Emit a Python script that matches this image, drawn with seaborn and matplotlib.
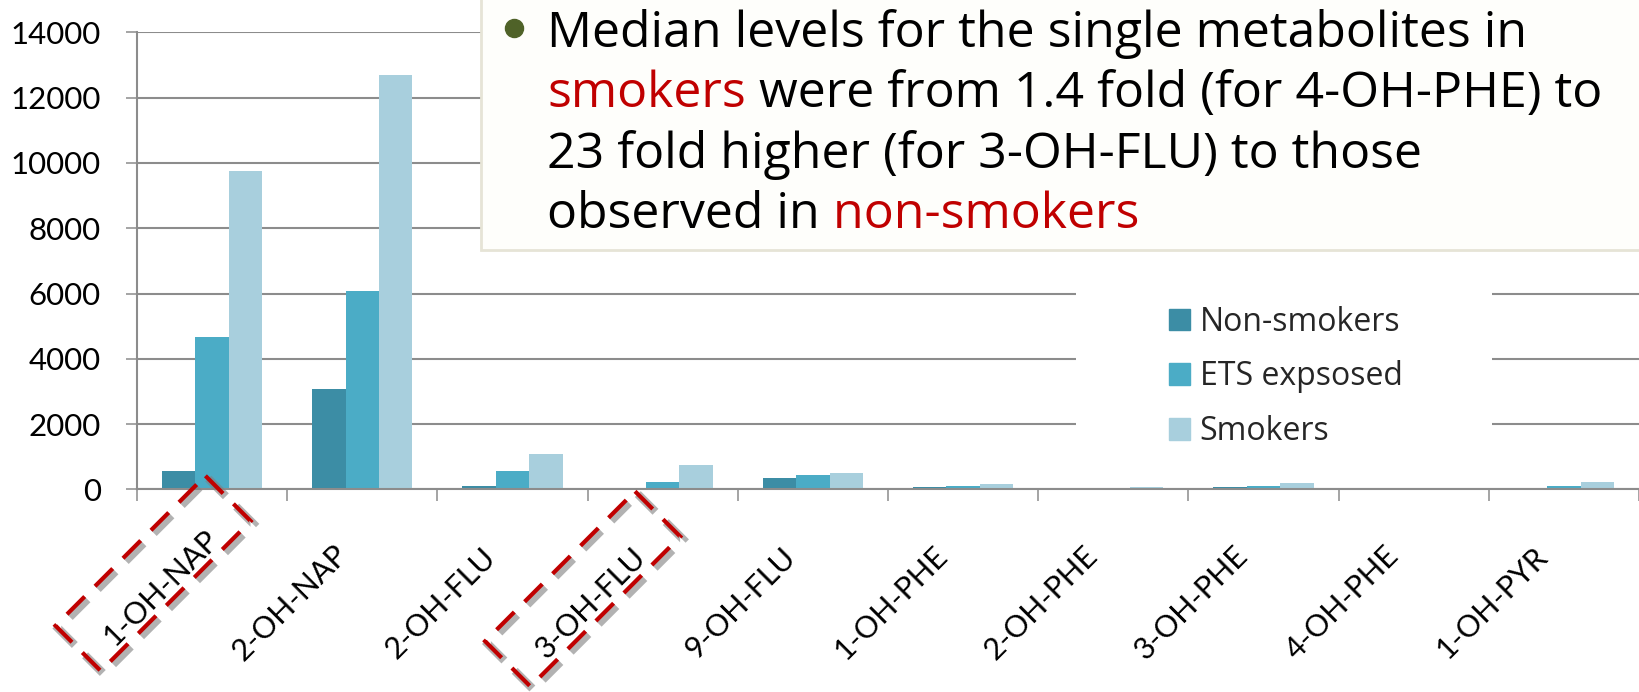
import numpy as np
import pandas as pd
import matplotlib
matplotlib.use("Agg")
import matplotlib.pyplot as plt
import matplotlib.patheffects as pe
from matplotlib.patches import Rectangle, Polygon
from matplotlib.lines import Line2D
from matplotlib.transforms import ScaledTranslation, IdentityTransform
import seaborn as sns

# values
metabolites = ["1-OH-NAP", "2-OH-NAP", "2-OH-FLU", "3-OH-FLU", "9-OH-FLU",
               "1-OH-PHE", "2-OH-PHE", "3-OH-PHE", "4-OH-PHE", "1-OH-PYR"]
non_smokers = [555, 3080, 105, 30, 340, 62, 30, 62, 10, 41]
ets_exposed = [4660, 6080, 565, 236, 430, 92, 41, 103, 12, 103]
smokers = [9760, 12700, 1090, 740, 515, 165, 72, 195, 14, 215]
groups = ["Non-smokers", "ETS expsosed", "Smokers"]
colors = ["#3C8DA5", "#4BACC6", "#A8CFDD"]
y_ticks = [0, 2000, 4000, 6000, 8000, 10000, 12000, 14000]
highlight = ["1-OH-NAP", "3-OH-FLU"]

df = pd.DataFrame({
    "metabolite": metabolites * 3,
    "value": non_smokers + ets_exposed + smokers,
    "group": sum([[g] * len(metabolites) for g in groups], []),
})

sns.set_style("white")
plt.rcParams["font.family"] = ["Lato", "DejaVu Sans"]

W, H = 1639, 692
fig = plt.figure(figsize=(W / 100, H / 100), dpi=100)
x0, y0, y1 = 137, 489.4, 32.3
ax = fig.add_axes([x0 / W, (H - y0) / H, (W - x0) / W, (y0 - y1) / H])

sns.barplot(data=df, x="metabolite", y="value", hue="group", palette=colors,
            width=0.666, saturation=1, linewidth=0, ax=ax)

grid_c = "#8C8C8C"
ax.set_ylim(0, 14000)
ax.set_yticks(y_ticks)
ax.set_xlim(-0.5, -0.5 + (W - x0) / 151)
ax.set_xlabel("")
ax.set_ylabel("")
ax.yaxis.grid(True, color=grid_c, linewidth=1.5)
ax.set_axisbelow(True)
for s in ["top", "right"]:
    ax.spines[s].set_visible(False)
for s in ["left", "bottom"]:
    ax.spines[s].set_color(grid_c)
    ax.spines[s].set_linewidth(1.5)

ax.set_xticks(np.arange(-0.5, len(metabolites), 1), minor=True)
ax.tick_params(axis="x", which="minor", length=8.6, width=1.1, color=grid_c, bottom=True)
ax.tick_params(axis="x", which="major", length=0, pad=18, labelsize=22, labelcolor="black")
ax.tick_params(axis="y", length=8, width=1.1, color=grid_c, pad=18, labelsize=22.5,
               left=True, labelcolor="black")
for lab in ax.get_xticklabels():
    lab.set_rotation(45)
    lab.set_ha("right")
    lab.set_va("center")
    lab.set_rotation_mode("anchor")

# legend with a white patch behind it
ax.get_legend().remove()
handles = [Rectangle((0, 0), 1, 1, color=c) for c in colors]
ax.add_patch(Rectangle((0.625, 0.064), 0.277, 0.401, transform=ax.transAxes,
                       facecolor="white", edgecolor="none", zorder=2))
ax.legend(handles, groups, loc="upper left", bbox_to_anchor=(0.687, 0.402),
          frameon=False, borderpad=0, borderaxespad=0, handlelength=0.66,
          handleheight=0.66, handletextpad=0.3, labelspacing=0.68,
          prop={"family": "Open Sans", "size": 23})

# text box at the top
fig.add_artist(Rectangle((481 / W, (H - 250) / H), 1, 1, transform=fig.transFigure,
                         facecolor="#FEFEFB", edgecolor="#E6E4D6", linewidth=2, zorder=5))
fig.add_artist(Line2D([514 / W], [(H - 28) / H], marker="o", markersize=13,
                      color="#4F6228", transform=fig.transFigure, zorder=6))
red = "#C00000"
lines = [
    [("Median levels for the single metabolites in", "black")],
    [("smokers", red), (" were from 1.4 fold (for 4-OH-PHE) to", "black")],
    [("23 fold higher (for 3-OH-FLU) to those", "black")],
    [("observed in", "black"), (" non-smokers", red)],
]
baselines = [47, 107, 168, 228]
renderer = fig.canvas.get_renderer()
for segs, b in zip(lines, baselines):
    x = 547
    for txt, c in segs:
        t = fig.text(x / W, (H - b) / H, txt, color=c, fontsize=36,
                     family=["Open Sans", "DejaVu Sans"],
                     ha="left", va="baseline", zorder=7)
        x = t.get_window_extent(renderer).x1

# place rotated labels like the reference: centre ~72 px left of the category
# and ~113 px below the axis; the first one is pushed inwards to stay in view
fig.canvas.draw()
axis_y = ax.transAxes.transform((0, 0))[1]
centers = {}
for i, lab in enumerate(ax.get_xticklabels()):
    bb = lab.get_window_extent()
    cx = ax.transData.transform((i, 0))[0]
    off = (-51, 98) if i == 0 else (-72, 113.5)
    tx, ty = cx + off[0], axis_y - off[1]
    dx, dy = tx - (bb.x0 + bb.x1) / 2, ty - (bb.y0 + bb.y1) / 2
    lab.set_transform(lab.get_transform() + ScaledTranslation(dx / 100, dy / 100, fig.dpi_scale_trans))
    centers[lab.get_text()] = np.array([tx, ty])

# red dashed boxes around highlighted labels
u = np.array([0.7071, 0.7071])
v = np.array([-0.7071, 0.7071])
L, Wd = 212, 64
for name in highlight:
    c = centers[name] + np.array([-8, 14])
    pts = [c + L / 2 * u + Wd / 2 * v, c + L / 2 * u - Wd / 2 * v,
           c - L / 2 * u - Wd / 2 * v, c - L / 2 * u + Wd / 2 * v]
    poly = Polygon(pts, closed=True, fill=False, edgecolor=red, linewidth=3,
                   linestyle=(0, (6, 3.5)), transform=IdentityTransform(), zorder=8,
                   path_effects=[pe.SimpleLineShadow(offset=(2, -2), shadow_color="gray",
                                                     alpha=0.6, linewidth=6),
                                 pe.Normal()])
    fig.add_artist(poly)

fig.savefig("out.png", dpi=100)
